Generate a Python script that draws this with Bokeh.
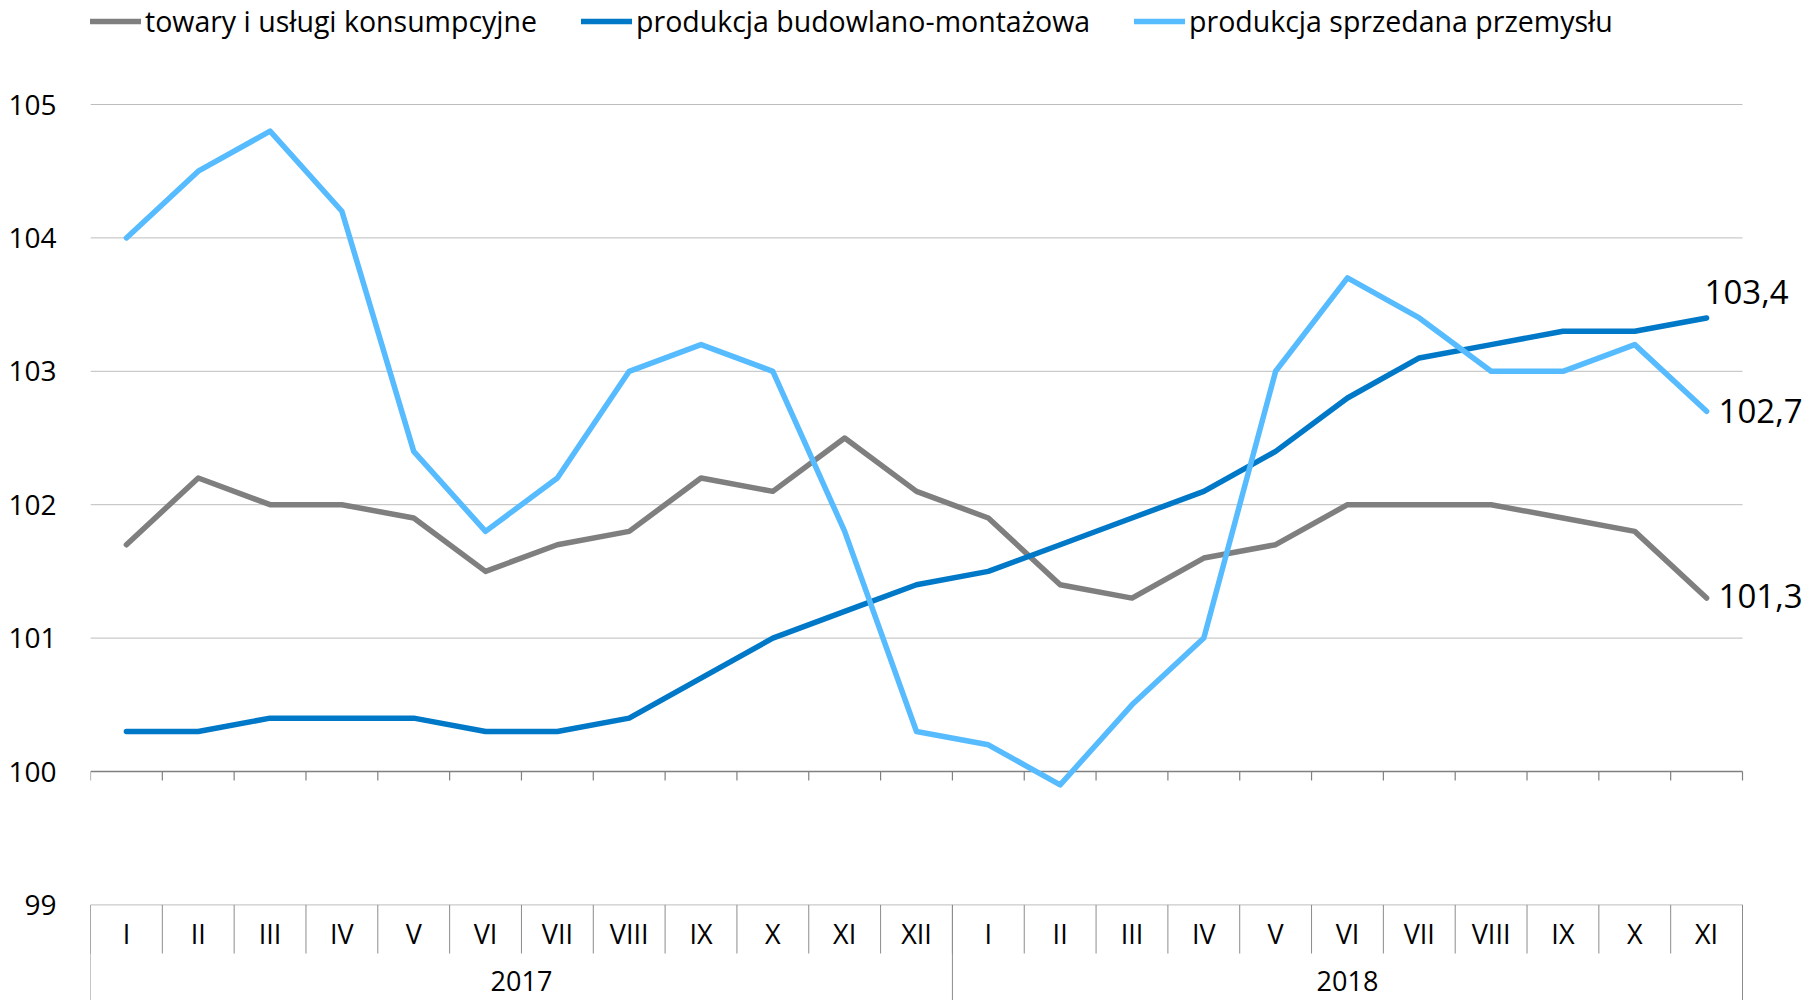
from bokeh.plotting import figure
from bokeh.models import Range1d, FixedTicker, Legend, LegendItem
from bokeh.core.properties import value
from bokeh.embed import file_html
from bokeh.resources import INLINE

# ---------------- data ----------------
months_2017 = ["I", "II", "III", "IV", "V", "VI", "VII", "VIII", "IX", "X", "XI", "XII"]
months_2018 = ["I", "II", "III", "IV", "V", "VI", "VII", "VIII", "IX", "X", "XI"]
years = ["2017", "2018"]

series_names = ["towary i usługi konsumpcyjne",
                "produkcja budowlano-montażowa",
                "produkcja sprzedana przemysłu"]

towary = [101.7, 102.2, 102.0, 102.0, 101.9, 101.5, 101.7, 101.8, 102.2, 102.1, 102.5, 102.1,
          101.9, 101.4, 101.3, 101.6, 101.7, 102.0, 102.0, 102.0, 101.9, 101.8, 101.3]
budowlano = [100.3, 100.3, 100.4, 100.4, 100.4, 100.3, 100.3, 100.4, 100.7, 101.0, 101.2, 101.4,
             101.5, 101.7, 101.9, 102.1, 102.4, 102.8, 103.1, 103.2, 103.3, 103.3, 103.4]
przemysl = [104.0, 104.5, 104.8, 104.2, 102.4, 101.8, 102.2, 103.0, 103.2, 103.0, 101.8, 100.3,
            100.2, 99.9, 100.5, 101.0, 103.0, 103.7, 103.4, 103.0, 103.0, 103.2, 102.7]

y_ticks = [99, 100, 101, 102, 103, 104, 105]

# ---------------- layout ----------------
FONT = "Open Sans"
W, H = 1810, 1000
BL = 90                         # frame left (px)
PLOT_RIGHT = 1742               # where the category area ends (px)
PPU = 133.4                     # pixels per unit on y
Y105 = 104                      # pixel row of value 105
Y100 = Y105 + 5 * PPU
y_top = 105 + Y105 / PPU
y_bot = 100 - (H - Y100) / PPU

months = months_2017 + months_2018
n = len(months)
S = (PLOT_RIGHT - BL) / n       # px per category
xs = [i + 0.5 for i in range(n)]
year_sizes = [len(months_2017), len(months_2018)]
x_end = n + (W - PLOT_RIGHT) / S

p = figure(width=W, height=H, output_backend="svg", toolbar_location=None,
           x_range=Range1d(0, x_end), y_range=Range1d(y_bot, y_top),
           min_border_left=BL, min_border_right=0, min_border_top=0, min_border_bottom=0,
           x_axis_location=None)
p.outline_line_color = None
p.background_fill_color = "white"
p.border_fill_color = "white"
p.xgrid.visible = False
p.ygrid.visible = False

ticker = FixedTicker(ticks=y_ticks)
p.yaxis.ticker = ticker
p.yaxis.axis_line_color = None
p.yaxis.major_tick_line_color = None
p.yaxis.minor_tick_line_color = None
p.yaxis.major_label_standoff = 28
p.yaxis.major_label_text_font = FONT
p.yaxis.major_label_text_font_size = "28px"
p.yaxis.major_label_text_color = "black"

# horizontal gridlines (stop at the end of the category area)
grid_vals = [t for t in y_ticks if t != 100]
p.segment(x0=[0] * len(grid_vals), y0=grid_vals, x1=[n] * len(grid_vals), y1=grid_vals,
          line_color="#BDBDBD", line_width=1)

# category axis line at 100 with ticks
tick_len = 9 / PPU
p.segment(x0=[0], y0=[100], x1=[n], y1=[100], line_color="#808080", line_width=1.6)
p.segment(x0=list(range(n + 1)), y0=[100] * (n + 1), x1=list(range(n + 1)),
          y1=[100 - tick_len] * (n + 1), line_color="#808080", line_width=1.2)

# bottom category table
row_bottom = 100 - (953 - Y100) / PPU
p.segment(x0=list(range(n + 1)), y0=[99] * (n + 1), x1=list(range(n + 1)),
          y1=[row_bottom] * (n + 1), line_color="#8C8C8C", line_width=1)
bounds = [0]
for s in year_sizes:
    bounds.append(bounds[-1] + s)
p.segment(x0=bounds, y0=[99] * len(bounds), x1=bounds, y1=[y_bot] * len(bounds),
          line_color="#8C8C8C", line_width=1)

month_y = 100 - (933 - Y100) / PPU
year_y = 100 - (980 - Y100) / PPU
p.text(x=xs, y=[month_y] * n, text=months, text_align="center", text_baseline="middle",
       text_font=value(FONT), text_font_size="27px", text_color="black")
year_x = [(bounds[i] + bounds[i + 1]) / 2 for i in range(len(years))]
p.text(x=year_x, y=[year_y] * len(years), text=years, text_align="center", text_baseline="middle",
       text_font=value(FONT), text_font_size="27px", text_color="black")

# series
colors = ["#7F7F7F", "#0078C8", "#57BBFF"]
data = [towary, budowlano, przemysl]
renderers = []
for vals, col in zip(data, colors):
    r = p.line(xs, vals, line_color=col, line_width=5.5, line_cap="round", line_join="round")
    renderers.append(r)

ITEM_H = 28
legend = Legend(items=[LegendItem(label=nm, renderers=[r]) for nm, r in zip(series_names, renderers)],
                orientation="horizontal", location=(0, H - 12 - ITEM_H), margin=0, padding=0,
                spacing=44, glyph_width=51, glyph_height=ITEM_H, label_height=ITEM_H,
                label_standoff=4, label_text_font=FONT, label_text_font_size="28.5px",
                label_text_color="black", border_line_color=None, background_fill_alpha=0)
p.add_layout(legend)

# end labels (offsets in px converted to data units)
offsets = [(12, 2), (-2, 26), (12, 0)]
lx, ly, lt = [], [], []
for vals, (dx, dy) in zip(data, offsets):
    lx.append(xs[-1] + dx / S)
    ly.append(vals[-1] + dy / PPU)
    lt.append(f"{vals[-1]:.1f}".replace(".", ","))
p.text(x=lx, y=ly, text=lt, text_align="left", text_baseline="middle",
       text_font=value(FONT), text_font_size="33px", text_color="black")

open("out.html", "w").write(file_html(p, INLINE))
